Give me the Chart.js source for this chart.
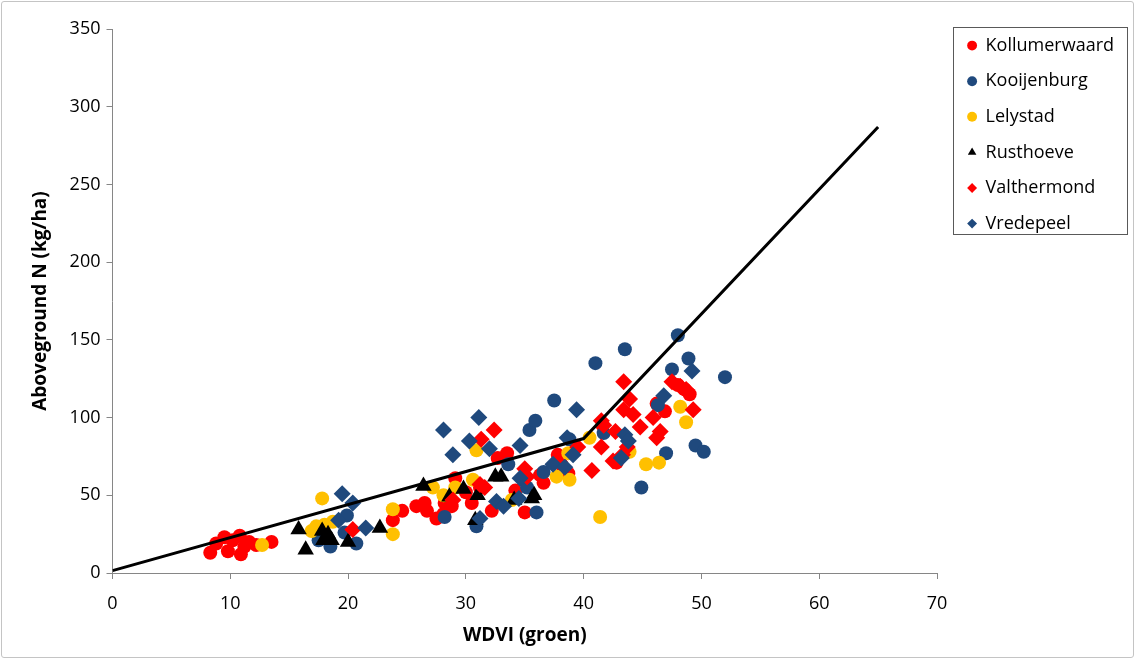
<!DOCTYPE html>
<html>
<head>
<meta charset="utf-8">
<title>Aboveground N vs WDVI</title>
<script src="https://cdn.jsdelivr.net/npm/chart.js@4.4.1/dist/chart.umd.min.js"></script>
<style>
    html, body { margin: 0; padding: 0; background: #fff; }
    .chart-wrap { position: relative; width: 1135px; height: 659px; }
    .chart-frame {
        position: absolute; left: 1px; top: 1px; width: 1131px; height: 655px;
        border: 1px solid #c4c4c4; border-radius: 3px; pointer-events: none;
    }
</style>
</head>
<body>
<div class="chart-wrap">
    <canvas id="nChart" width="1135" height="659"></canvas>
    <div class="chart-frame"></div>
</div>
<script>
// Measured points per location: [WDVI, aboveground N]
const kollumerwaard = [
    [8.3, 13], [8.8, 19], [9.5, 23], [9.8, 14], [10.2, 21], [10.8, 24], [10.9, 12], [11.2, 17],
    [11.6, 20], [12.2, 18], [13.5, 20], [23.8, 34], [24.6, 40], [25.8, 43], [26.5, 45], [26.7, 40],
    [27.5, 35], [28.1, 38], [28.2, 45], [28.8, 43], [29.1, 61], [30, 52], [30.5, 45], [31.2, 55],
    [32.2, 40], [32.7, 74], [33.5, 77], [34.2, 53], [35, 39], [36.3, 63], [36.6, 58], [37.8, 76],
    [38.1, 70], [38.7, 64], [41.6, 95], [42.8, 71], [46.2, 109], [46.9, 104], [48, 121], [48.6, 118],
    [49, 115]
];
const kooijenburg = [
    [17.5, 21], [18.5, 17], [19.7, 26], [19.9, 37], [20.7, 19], [28.2, 36], [30.9, 30], [33.6, 70],
    [35.2, 55], [35.4, 92], [35.9, 98], [36, 39], [36.6, 65], [37.5, 111], [38.8, 86], [41, 135],
    [41.7, 90], [43.5, 144], [44.9, 55], [46.3, 108], [47, 77], [47.5, 131], [48, 153], [48.9, 138],
    [49.5, 82], [50.2, 78], [52, 126]
];
const lelystad = [
    [12.7, 18], [16.9, 27], [17.3, 30], [17.8, 48], [18, 31], [18.7, 33], [23.8, 25], [23.8, 41],
    [27.2, 55], [28.1, 50], [29.1, 55], [30.6, 60], [30.9, 79], [33.9, 47], [37.7, 62], [38.7, 77],
    [38.8, 60], [40.5, 87], [41.4, 36], [43.9, 78], [45.3, 70], [46.4, 71], [48.2, 107], [48.7, 97]
];
const rusthoeve = [
    [15.8, 28], [16.4, 15], [17.8, 27], [18.3, 25], [17.9, 21], [18.6, 21], [20, 20], [22.7, 29],
    [26.4, 56], [28.6, 49], [29.8, 54], [30.8, 34], [31, 50], [32.5, 62], [33, 62], [34.1, 47],
    [35.6, 48], [35.8, 50]
];
const valthermond = [
    [20.4, 28], [28.9, 47], [31.2, 57], [31.6, 55], [31.3, 86], [32.4, 92], [35, 67], [35.2, 62],
    [39.5, 81], [40.7, 66], [41.5, 81], [41.5, 98], [41.7, 95], [42.5, 72], [42.7, 91], [43.3, 76],
    [43.4, 105], [43.4, 123], [43.7, 81], [43.9, 112], [44.2, 102], [44.8, 94], [45.9, 100],
    [46.2, 87], [46.5, 91], [47.5, 123], [48.2, 120], [48.7, 118], [49.3, 105]
];
const vredepeel = [
    [19.2, 34], [19.5, 51], [20.4, 45], [21.5, 29], [28.1, 92], [28.9, 76], [30.3, 85], [31.1, 100],
    [31.2, 35], [32, 80], [32.6, 46], [33.2, 43], [34.5, 48], [34.6, 61], [34.6, 82], [37.4, 70],
    [38.4, 68], [38.6, 87], [39.1, 76], [39.4, 105], [43.2, 74], [43.5, 89], [43.8, 85],
    [46.8, 114], [49.2, 130]
];

// Broken-line fit drawn through the cloud
const fitX = [0, 40, 65];
const fitY = [1.5, 86.5, 287];

// Axis ticks
const xTicks = [0, 10, 20, 30, 40, 50, 60, 70];
const yTicks = [0, 50, 100, 150, 200, 250, 300, 350];

const FONT = "'Open Sans', 'DejaVu Sans', sans-serif";
const DARK_BLUE = '#1F497D';
const AXIS_GREY = '#868686';

const toPoints = arr => arr.map(p => ({ x: p[0], y: p[1] }));

function seriesSet(label, data, color, style, radius, order) {
    return {
        type: 'scatter',
        label: label,
        data: toPoints(data),
        pointStyle: style,
        pointRadius: radius,
        pointHoverRadius: radius,
        backgroundColor: color,
        borderColor: color,
        pointBorderWidth: 0,
        order: order
    };
}

// Legend: fixed spot top right with a thin box around it
const legendFrame = {
    id: 'legendFrame',
    afterLayout(chart) {
        const lg = chart.legend;
        const w = lg.right - lg.left;
        const h = lg.bottom - lg.top;
        lg.left = 950; lg.right = 950 + w;
        lg.top = 19; lg.bottom = 19 + h;
    },
    afterDraw(chart) {
        const ctx = chart.ctx;
        ctx.save();
        ctx.strokeStyle = '#595959';
        ctx.lineWidth = 1;
        ctx.strokeRect(953.5, 27.5, 174, 207);
        ctx.restore();
    }
};

const datasets = [
    seriesSet('Kollumerwaard', kollumerwaard, '#FF0000', 'circle', 7, 6),
    seriesSet('Kooijenburg', kooijenburg, DARK_BLUE, 'circle', 7, 5),
    seriesSet('Lelystad', lelystad, '#FFC000', 'circle', 7, 4),
    seriesSet('Rusthoeve', rusthoeve, '#000000', 'triangle', 9.5, 3),
    seriesSet('Valthermond', valthermond, '#FF0000', 'rectRot', 8.5, 2),
    seriesSet('Vredepeel', vredepeel, DARK_BLUE, 'rectRot', 8.5, 1),
    {
        type: 'line',
        label: 'fit',
        data: fitX.map((x, i) => ({ x: x, y: fitY[i] })),
        borderColor: '#000000',
        borderWidth: 3,
        pointRadius: 0,
        fill: false,
        tension: 0,
        order: 0
    }
];

const axisTitleFont = { family: FONT, size: 19, weight: 'bold' };
const tickFont = { family: FONT, size: 18 };

new Chart(document.getElementById('nChart'), {
    type: 'scatter',
    data: { datasets: datasets },
    options: {
        responsive: false,
        animation: false,
        devicePixelRatio: 1,
        layout: { padding: { top: 29, left: 0, right: 198, bottom: 0 } },
        plugins: {
            tooltip: { enabled: false },
            legend: {
                position: 'chartArea',
                align: 'start',
                labels: {
                    usePointStyle: true,
                    boxWidth: 9,
                    boxHeight: 7,
                    padding: 17.6,
                    color: '#000',
                    font: { family: FONT, size: 18 },
                    filter: item => item.text !== 'fit',
                    sort: (a, b) => a.datasetIndex - b.datasetIndex
                }
            }
        },
        scales: {
            x: {
                type: 'linear',
                min: xTicks[0],
                max: xTicks[xTicks.length - 1],
                afterBuildTicks: s => { s.ticks = xTicks.map(v => ({ value: v })); },
                afterFit: s => { s.height = 86; s.paddingLeft = 0; s.paddingRight = 0; },
                grid: { drawOnChartArea: false, color: AXIS_GREY, tickLength: 6 },
                border: { color: AXIS_GREY },
                ticks: { color: '#000', font: tickFont, padding: 14, maxRotation: 0 },
                title: { display: true, text: 'WDVI (groen)', color: '#000', font: axisTitleFont, padding: { bottom: 12 } }
            },
            y: {
                type: 'linear',
                min: yTicks[0],
                max: yTicks[yTicks.length - 1],
                afterBuildTicks: s => { s.ticks = yTicks.map(v => ({ value: v })); },
                afterFit: s => { s.width = 112.5; s.paddingTop = 0; s.paddingBottom = 0; },
                grid: { drawOnChartArea: false, color: AXIS_GREY, tickLength: 6 },
                border: { color: AXIS_GREY },
                ticks: { color: '#000', font: tickFont, padding: 6 },
                title: { display: true, text: 'Aboveground N (kg/ha)', color: '#000', font: axisTitleFont, padding: { top: 29 } }
            }
        }
    },
    plugins: [legendFrame]
});
</script>
</body>
</html>
